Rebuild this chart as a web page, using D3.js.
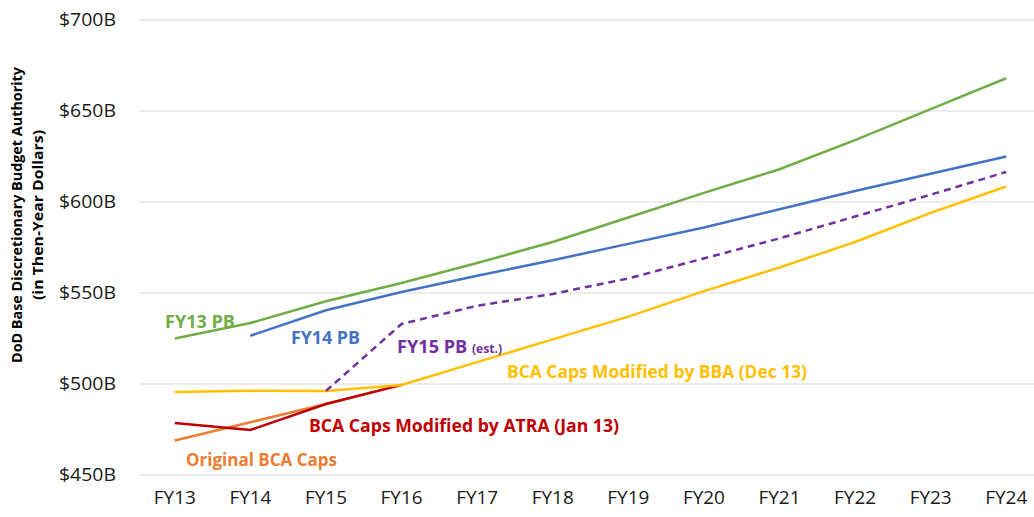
<html>
<head>
  <meta charset="utf-8" />
  <script src="https://cdnjs.cloudflare.com/ajax/libs/d3/7.8.5/d3.min.js"></script>
  <style>
    body { margin: 0; background: #fff; }
    text { font-family: "Open Sans", sans-serif; }
  </style>
</head>
<body>
  <svg></svg>
  <script>
  var years = ["FY13","FY14","FY15","FY16","FY17","FY18","FY19","FY20","FY21","FY22","FY23","FY24"]
  var yTicks = [450, 500, 550, 600, 650, 700]

  var fy13pb   = [525, 533.5, 545.5, 555.5, 566.5, 578, 591.5, 605, 618, 634, 651, 668]
  var fy14pb   = [null, 526.5, 540.5, 550.5, 559.5, 568, 577, 586, 596, 606, 615.5, 625]
  var fy15pb   = [null, null, 496.2, 533, 543, 549.5, 558, 569, 580, 592, 604, 616.5]
  var bbaCaps  = [495.6, 496.3, 496.2, 499.5, 512, 524.5, 537, 551, 564, 578, 594, 608.5]
  var atraCaps = [478.6, 474.7, 489, 499.5, null, null, null, null, null, null, null, null]
  var origCaps = [469, 479, 489, 499.5, null, null, null, null, null, null, null, null]

  var svg = d3.select("svg").attr("width", 1034).attr("height", 517)

  var x = d3.scalePoint().domain(years).range([137, 1044]).padding(0.5)
  var y = d3.scaleLinear().domain([450, 700]).range([475, 20])

  // gridlines
  svg.append("g")
    .selectAll("line").data(yTicks).join("line")
      .attr("x1", 140).attr("x2", 1034)
      .attr("y1", d => y(d)).attr("y2", d => y(d))
      .attr("stroke", "#d9d9d9").attr("stroke-width", 1)

  // y axis labels
  svg.append("g")
    .selectAll("text").data(yTicks).join("text")
      .attr("x", 116).attr("y", d => y(d)).attr("dy", "0.35em")
      .attr("text-anchor", "end")
      .attr("font-size", 18.5).attr("fill", "#1a1a1a")
      .attr("textLength", 57).attr("lengthAdjust", "spacingAndGlyphs")
      .text(d => "$" + d + "B")

  // x axis labels
  svg.append("g")
    .selectAll("text").data(years).join("text")
      .attr("x", d => x(d)).attr("y", 504)
      .attr("text-anchor", "middle")
      .attr("font-size", 18).attr("fill", "#1a1a1a")
      .attr("textLength", 42).attr("lengthAdjust", "spacingAndGlyphs")
      .text(d => d)

  // y title
  var title = svg.append("text")
    .attr("transform", "translate(22, 215) rotate(-90)")
    .attr("text-anchor", "middle")
    .attr("font-size", 14).attr("font-weight", "bold").attr("fill", "#000")
  title.append("tspan").attr("x", 0).attr("y", 0)
    .attr("textLength", 296).attr("lengthAdjust", "spacingAndGlyphs")
    .text("DoD Base Discretionary Budget Authority")
  title.append("tspan").attr("x", 0).attr("y", 21)
    .attr("textLength", 170).attr("lengthAdjust", "spacingAndGlyphs")
    .text("(in Then-Year Dollars)")

  var line = d3.line()
    .defined(d => d != null)
    .x((d, i) => x(years[i]))
    .y(d => y(d))

  var series = [
    { vals: origCaps, color: "#ED7D31", dash: null },
    { vals: atraCaps, color: "#C00000", dash: null },
    { vals: bbaCaps,  color: "#FFC000", dash: null },
    { vals: fy15pb,   color: "#7030A0", dash: "7,5" },
    { vals: fy14pb,   color: "#4472C4", dash: null },
    { vals: fy13pb,   color: "#70AD47", dash: null }
  ]

  series.forEach(s => {
    svg.append("path")
      .attr("d", line(s.vals))
      .attr("fill", "none")
      .attr("stroke", s.color)
      .attr("stroke-width", 2.5)
      .attr("stroke-dasharray", s.dash)
  })

  // series labels
  var labels = [
    { t: "FY13 PB", x: 165, y: 328, c: "#70AD47", w: 70 },
    { t: "FY14 PB", x: 291, y: 344, c: "#4472C4", w: 69 },
    { t: "BCA Caps Modified by BBA (Dec 13)", x: 507, y: 378, c: "#FFC000", w: 300 },
    { t: "BCA Caps Modified by ATRA (Jan 13)", x: 309, y: 432, c: "#C00000", w: 310 },
    { t: "Original BCA Caps", x: 186, y: 466, c: "#ED7D31", w: 151 }
  ]
  svg.append("g")
    .selectAll("text").data(labels).join("text")
      .attr("x", d => d.x).attr("y", d => d.y)
      .attr("font-size", 17).attr("font-weight", "bold")
      .attr("fill", d => d.c)
      .attr("textLength", d => d.w).attr("lengthAdjust", "spacingAndGlyphs")
      .text(d => d.t)

  var fy15 = svg.append("text")
    .attr("x", 397).attr("y", 353)
    .attr("font-weight", "bold").attr("fill", "#7030A0")
  fy15.append("tspan").attr("font-size", 17)
    .attr("textLength", 75).attr("lengthAdjust", "spacingAndGlyphs").text("FY15 PB ")
  fy15.append("tspan").attr("font-size", 13)
    .attr("textLength", 30).attr("lengthAdjust", "spacingAndGlyphs").text("(est.)")
  </script>
</body>
</html>
